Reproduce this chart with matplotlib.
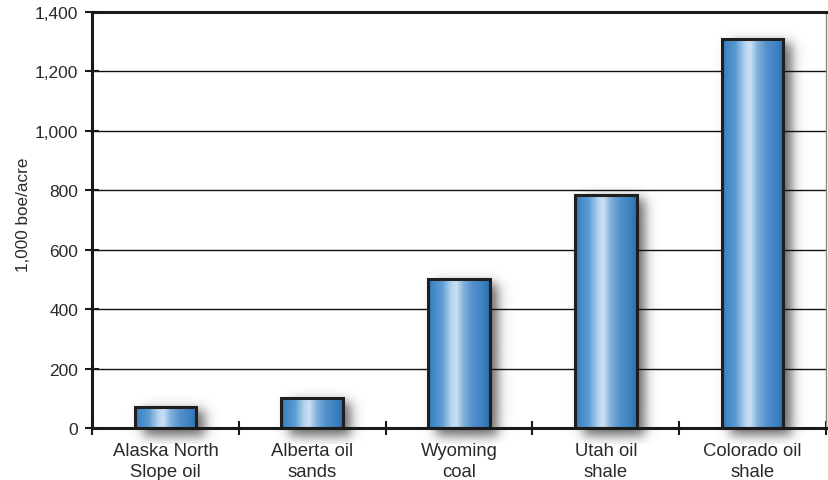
import numpy as np
import matplotlib
matplotlib.use("Agg")
import matplotlib.pyplot as plt
from matplotlib.colors import LinearSegmentedColormap

categories = ["Alaska North\nSlope oil", "Alberta oil\nsands", "Wyoming\ncoal", "Utah oil\nshale", "Colorado oil\nshale"]
values = [72, 100, 500, 785, 1310]
yticks = [0, 200, 400, 600, 800, 1000, 1200, 1400]
ytick_labels = ["0", "200", "400", "600", "800", "1,000", "1,200", "1,400"]
ylabel = "1,000 boe/acre"

plt.rcParams['font.family'] = ['Liberation Sans', 'DejaVu Sans']

W, H, DPI = 829, 481, 100
fig = plt.figure(figsize=(W / DPI, H / DPI), dpi=DPI)
ax = fig.add_axes([92 / W, 1 - 429 / H, (826 - 92) / W, (429 - 13) / H])

xmin, xmax, ymin, ymax = -0.5, 4.5, 0, 1400
ax.set_xlim(xmin, xmax)
ax.set_ylim(ymin, ymax)

pxx = (xmax - xmin) / (826 - 92)   # data units per px in x
pxy = (ymax - ymin) / (429 - 13)   # data units per px in y

cmap = LinearSegmentedColormap.from_list("barg", [
    (0.00, "#2f6fae"),
    (0.06, "#3f86c4"),
    (0.22, "#5b9bd2"),
    (0.38, "#b8d6ef"),
    (0.46, "#c9e0f3"),
    (0.58, "#7fb0dc"),
    (0.72, "#5592cb"),
    (0.90, "#3a80c0"),
    (1.00, "#2e6dab"),
])

bar_w = 0.42

for yt in yticks[1:-1]:
    ax.axhline(yt, color="#111111", lw=1.0, zorder=1.5)

grad = np.linspace(0, 1, 256).reshape(1, -1)

def smooth(t):
    return 0.5 * (1 + np.tanh(t))

for i, v in enumerate(values):
    x0, x1 = i - bar_w / 2, i + bar_w / 2
    sx0, sx1 = x0 - 10 * pxx, x1 + 34 * pxx
    sy0, sy1 = -16 * pxy, v + 10 * pxy
    nx, ny = 120, 200
    xs = np.linspace(sx0, sx1, nx)
    ys = np.linspace(sy0, sy1, ny)
    X, Y = np.meshgrid(xs, ys)
    s = 7.0
    ox, oy = 8 * pxx, -4 * pxy
    ax_ = smooth((X - (x0 + ox)) / (s * pxx)) * smooth(((x1 + ox) - X) / (s * pxx))
    ay_ = smooth((Y - (0 + oy - 4 * pxy)) / (s * pxy)) * smooth(((v + oy) - Y) / (s * pxy))
    alpha = 0.75 * ax_ * ay_
    rgba = np.zeros((ny, nx, 4))
    rgba[..., :3] = 0.2
    rgba[..., 3] = alpha
    ax.imshow(rgba, extent=(sx0, sx1, sy0, sy1), origin="lower", aspect="auto",
              zorder=1, interpolation="bilinear", clip_on=False)
    ax.imshow(grad, extent=(x0, x1, 0, v), cmap=cmap, aspect="auto", zorder=2,
              interpolation="bilinear")
    ax.add_patch(plt.Rectangle((x0, 0), bar_w, v, fill=False, edgecolor="#1f1f1f",
                               lw=2.2, zorder=3))

ax.set_xlim(xmin, xmax)
ax.set_ylim(ymin, ymax)

ax.set_yticks(yticks)
ax.set_yticklabels(ytick_labels, fontsize=12.5, color="#2a2a2a")
ax.set_xticks(range(len(categories)))
ax.set_xticklabels(categories, fontsize=13.3, color="#2a2a2a", linespacing=1.3)
ax.tick_params(axis="x", length=0, pad=10)
ax.set_xticks([i - 0.5 for i in range(len(categories) + 1)], minor=True)
ax.tick_params(axis="x", which="minor", direction="inout", length=10, width=1.5, color="#1a1a1a")
ax.tick_params(axis="y", direction="inout", length=10, width=1.5, color="#1a1a1a", pad=5)

ax.set_ylabel(ylabel, fontsize=12.3, color="#2a2a2a")
ax.yaxis.set_label_coords((31 - 92) / 734, (429 - 215) / 416)

for side in ["left", "bottom", "top"]:
    ax.spines[side].set_color("#1a1a1a")
    ax.spines[side].set_linewidth(2.2)
    ax.spines[side].set_zorder(4)
ax.spines["right"].set_color("#888888")
ax.spines["right"].set_linewidth(1.0)

fig.savefig("out.png", dpi=DPI)
